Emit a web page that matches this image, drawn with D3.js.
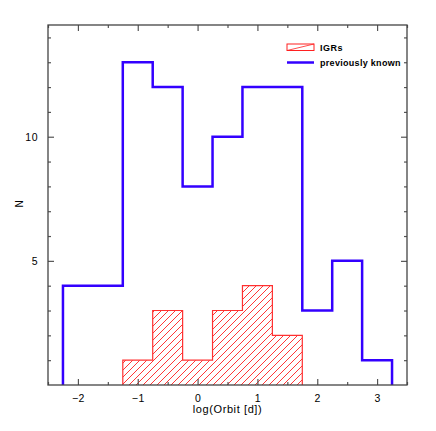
<!DOCTYPE html>
<html>
<head>
<meta charset="utf-8">
<script src="https://cdn.jsdelivr.net/npm/d3@7"></script>
<style>
  body { margin: 0; background: #fff; }
  text { font-family: "Liberation Sans", Arial, sans-serif; fill: #000; }
</style>
</head>
<body>
<div id="chart"></div>
<script>
// bin edges (log orbit, days) and counts
var binEdges = [-2.25, -1.75, -1.25, -0.75, -0.25, 0.25, 0.75, 1.25, 1.75, 2.25, 2.75, 3.25]
var knownCounts = [4, 4, 13, 12, 8, 10, 12, 12, 3, 5, 1]
var igrEdges = [-1.25, -0.75, -0.25, 0.25, 0.75, 1.25, 1.75]
var igrCounts = [1, 3, 1, 3, 4, 2]
var xTicks = [-2, -1, 0, 1, 2, 3]
var yTicks = [5, 10]

const margin = { top: 25, right: 29, bottom: 46, left: 48 }
const width = 436 - margin.left - margin.right
const height = 431 - margin.top - margin.bottom

const svg = d3.select("#chart")
  .append("svg")
    .attr("width", 436)
    .attr("height", 431)
  .append("g")
    .attr("transform", `translate(${margin.left},${margin.top})`)

const x = d3.scaleLinear().domain([-2.5, 3.5]).range([0, width])
const y = d3.scaleLinear().domain([0, 14.5]).range([height, 0])

// hatch pattern for IGRs
const defs = svg.append("defs")
defs.append("pattern")
    .attr("id", "hatch")
    .attr("patternUnits", "userSpaceOnUse")
    .attr("width", 7)
    .attr("height", 7)
  .append("path")
    .attr("d", "M-1,8 L8,-1 M-4,4 L4,-4 M3,11 L11,3")
    .attr("stroke", "#ff2020")
    .attr("stroke-width", 0.9)

// step outline from edges + counts
function stepPath(edges, counts) {
  var p = d3.path()
  p.moveTo(x(edges[0]), y(0))
  counts.forEach((c, i) => {
    p.lineTo(x(edges[i]), y(c))
    p.lineTo(x(edges[i + 1]), y(c))
  })
  p.lineTo(x(edges[edges.length - 1]), y(0))
  return p.toString()
}

svg.append("path")
  .attr("d", stepPath(igrEdges, igrCounts) + "Z")
  .attr("fill", "url(#hatch)")
  .attr("stroke", "none")
svg.append("path")
  .attr("d", stepPath(igrEdges, igrCounts))
  .attr("fill", "none")
  .attr("stroke", "#ff3030")
  .attr("stroke-width", 1.2)

svg.append("path")
  .attr("d", stepPath(binEdges, knownCounts))
  .attr("fill", "none")
  .attr("stroke", "#3300ff")
  .attr("stroke-width", 2.5)

// axes with inward ticks on all four sides
function styleAxis(g) {
  g.select(".domain").remove()
  g.selectAll("line").attr("stroke", "#555").attr("stroke-width", 1.2)
  g.selectAll("text").style("font-size", "10.5px").style("letter-spacing", "0.5px")
}
const xMinor = d3.range(-2.5, 3.51, 0.5).filter(v => !xTicks.includes(v))
const yMinor = d3.range(1, 15, 1).filter(v => !yTicks.includes(v))

svg.append("g").attr("transform", `translate(0,${height})`)
  .call(d3.axisBottom(x).tickValues(xTicks).tickSizeInner(-6).tickSizeOuter(0).tickPadding(10)
    .tickFormat(d => d < 0 ? "\u2212" + Math.abs(d) : d))
  .call(styleAxis)
svg.append("g").attr("transform", `translate(0,${height})`)
  .call(d3.axisBottom(x).tickValues(xMinor).tickSize(-3).tickFormat(""))
  .call(styleAxis)
svg.append("g")
  .call(d3.axisTop(x).tickValues(xTicks).tickSize(-6).tickFormat(""))
  .call(styleAxis)
svg.append("g")
  .call(d3.axisTop(x).tickValues(xMinor).tickSize(-3).tickFormat(""))
  .call(styleAxis)

svg.append("g")
  .call(d3.axisLeft(y).tickValues(yTicks).tickSizeInner(-6).tickSizeOuter(0).tickPadding(10))
  .call(styleAxis)
svg.append("g")
  .call(d3.axisLeft(y).tickValues(yMinor).tickSize(-3).tickFormat(""))
  .call(styleAxis)
svg.append("g").attr("transform", `translate(${width},0)`)
  .call(d3.axisRight(y).tickValues(yTicks).tickSize(-6).tickFormat(""))
  .call(styleAxis)
svg.append("g").attr("transform", `translate(${width},0)`)
  .call(d3.axisRight(y).tickValues(yMinor).tickSize(-3).tickFormat(""))
  .call(styleAxis)

// frame
svg.append("rect")
  .attr("width", width).attr("height", height)
  .attr("fill", "none").attr("stroke", "#444").attr("stroke-width", 1.3)

// axis labels
svg.append("text")
  .attr("x", width / 2).attr("y", height + 28)
  .attr("text-anchor", "middle").style("font-size", "11px").style("letter-spacing", "0.6px")
  .text("log(Orbit [d])")
svg.append("text")
  .attr("transform", `translate(${-25},${height / 2 - 1}) rotate(-90)`)
  .attr("text-anchor", "middle").style("font-size", "10px")
  .text("N")

// legend
const lg = svg.append("g").attr("transform", `translate(${287 - margin.left},${44 - margin.top})`)
lg.append("rect").attr("width", 27).attr("height", 6.5)
  .attr("fill", "none").attr("stroke", "#ff2020").attr("stroke-width", 1)
lg.append("line").attr("x1", 0).attr("y1", 6.5).attr("x2", 27).attr("y2", 0)
  .attr("stroke", "#ff2020").attr("stroke-width", 0.8)
lg.append("text").attr("x", 33).attr("y", 7).style("font-size", "9px")
  .style("letter-spacing", "0.5px").style("font-weight", "bold").text("IGRs")
lg.append("line").attr("x1", 0).attr("y1", 18.5).attr("x2", 27).attr("y2", 18.5)
  .attr("stroke", "#3300ff").attr("stroke-width", 2.5)
lg.append("text").attr("x", 33).attr("y", 21.5).style("font-size", "9px")
  .style("letter-spacing", "0.3px").style("font-weight", "bold").text("previously known")
</script>
</body>
</html>
